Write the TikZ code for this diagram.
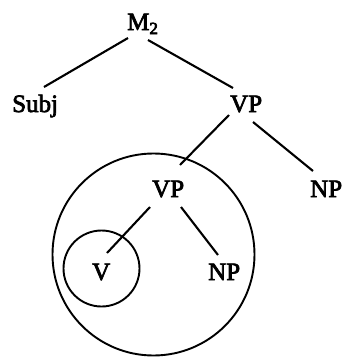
\documentclass[tikz,border=0pt]{standalone}
\usepackage{fontspec}
\setmainfont{Liberation Serif}
\newcommand\thicktext[1]{\special{pdf:literal direct 2 Tr 0.7 w}#1\special{pdf:literal direct 0 Tr}}
\begin{document}
\begin{tikzpicture}[x=1pt,y=-1pt,
  lbl/.style={inner sep=0pt,anchor=base west,font=\fontsize{25}{25}\selectfont,execute at begin node=\special{pdf:literal direct 2 Tr 0.7 w},execute at end node=\special{pdf:literal direct 0 Tr}},
  edge/.style={line width=2.1pt},
  ring/.style={line width=1.9pt}]
\useasboundingbox (0,0) rectangle (341,357);
\node[lbl] (m) at (127,30) {M\raisebox{-4pt}{\fontsize{17}{17}\selectfont 2}};
\node[lbl] (subj) at (12,112) {Subj};
\node[lbl] (vp1) at (230,112) {VP};
\node[lbl] (vp2) at (152,197) {VP};
\node[lbl] (nprt) at (310,197) {NP};
\node[lbl] (v) at (92,280) {V};
\node[lbl] (np2) at (208,280) {NP};
\draw[edge] ([shift={(1,8)}]m.base west) -- ([shift={(32,-25)}]subj.base west);
\draw[edge] ([shift={(21,10)}]m.base west) -- ([shift={(3,-24)}]vp1.base west);
\draw[edge] ([shift={(-1,3)}]vp1.base west) -- ([shift={(28,-32)}]vp2.base west);
\draw[edge] ([shift={(23,10)}]vp1.base west) -- ([shift={(3,-26)}]nprt.base west);
\draw[edge] ([shift={(-2,10)}]vp2.base west) -- ([shift={(15,-27)}]v.base west);
\draw[edge] ([shift={(29,10)}]vp2.base west) -- ([shift={(10,-25)}]np2.base west);
\draw[ring] (153.5,254.5) circle[radius=101];
\draw[ring] (101.5,268.5) circle[radius=38];
\end{tikzpicture}
\end{document}
